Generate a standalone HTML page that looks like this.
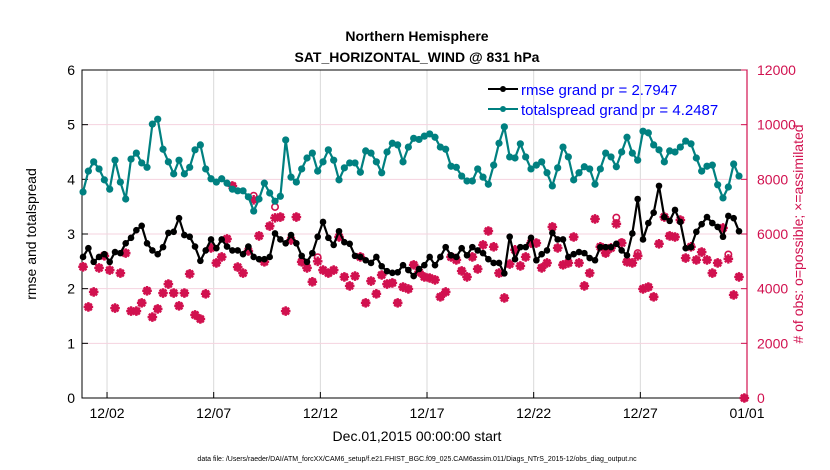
<!DOCTYPE html>
<html><head><meta charset="utf-8"><style>
html,body{margin:0;padding:0;background:#fff;}
svg{display:block;font-family:"Liberation Sans",Arial,sans-serif;}
</style></head><body>
<svg id="c" width="830" height="470" viewBox="0 0 830 470">
<text x="417" y="41" text-anchor="middle" font-size="14" font-weight="bold">Northern Hemisphere</text>
<text x="417" y="62" text-anchor="middle" font-size="14" font-weight="bold">SAT_HORIZONTAL_WIND @ 831 hPa</text>
<g id="grid"></g>
<g id="axes"></g>
<g id="marks"></g>
<text transform="translate(36,234) rotate(-90)" text-anchor="middle" font-size="14">rmse and totalspread</text>
<text transform="translate(803,234) rotate(-90)" text-anchor="middle" font-size="14" fill="#d1114f"># of obs: o=possible; ×=assimilated</text>
<text x="417" y="441" text-anchor="middle" font-size="14">Dec.01,2015 00:00:00 start</text>
<text x="417" y="461" text-anchor="middle" font-size="7">data file: /Users/raeder/DAI/ATM_forcXX/CAM6_setup/f.e21.FHIST_BGC.f09_025.CAM6assim.011/Diags_NTrS_2015-12/obs_diag_output.nc</text>
<g>
<g>
<line x1="488" y1="89" x2="518" y2="89" stroke="#000" stroke-width="2"/><circle cx="503" cy="89" r="3" fill="#000"/>
<text x="521" y="95" font-size="15" fill="#0000ff">rmse grand pr = 2.7947</text></g>
<g>
<line x1="488" y1="109" x2="518" y2="109" stroke="#008080" stroke-width="2"/><circle cx="503" cy="109" r="3" fill="#008080"/>
<text x="521" y="115" font-size="15" fill="#0000ff">totalspread grand pr = 4.2487</text></g>
</g>
</svg>
<script>
const spread=[3.77,4.15,4.32,4.19,3.99,3.82,4.35,3.95,3.64,4.37,4.48,4.30,4.22,5.01,5.10,4.55,4.32,4.10,4.35,4.10,4.22,4.54,4.63,4.19,4.01,3.95,4.01,3.93,3.82,3.79,3.79,3.68,3.42,3.64,3.93,3.75,3.60,3.69,4.72,4.04,3.95,4.19,4.39,
4.48,4.15,4.32,4.54,4.35,3.99,4.21,4.30,4.30,4.13,4.52,4.48,4.32,4.12,4.50,4.66,4.63,4.32,4.59,4.75,4.73,4.79,4.83,4.77,4.59,4.55,4.24,4.22,4.06,3.97,3.97,4.19,4.04,3.91,4.26,4.66,4.96,4.41,4.39,4.65,4.41,
4.19,4.26,4.32,4.12,3.88,4.21,4.59,4.41,3.99,4.12,4.23,4.19,3.91,4.19,4.48,4.41,4.23,4.50,4.77,4.48,4.35,4.88,4.85,4.63,4.54,4.32,4.52,4.50,4.59,4.70,4.65,4.39,4.15,4.24,4.26,3.90,3.66,3.86,4.28,4.06];
const rmse=[2.58,2.74,2.49,2.58,2.63,2.49,2.67,2.65,2.83,2.93,3.07,3.15,2.83,2.70,2.63,2.76,3.02,3.04,3.29,2.98,2.95,2.77,2.51,2.70,2.90,2.74,2.90,2.77,2.70,2.70,2.63,2.77,2.58,2.54,2.54,2.58,3.01,2.90,2.83,2.98,2.83,2.60,2.49,
2.65,2.95,3.22,2.93,2.80,3.05,2.85,2.82,2.60,2.58,2.52,2.47,2.58,2.41,2.32,2.29,2.30,2.43,2.34,2.23,2.36,2.43,2.58,2.43,2.58,2.76,2.61,2.58,2.74,2.61,2.76,2.70,2.65,2.54,2.47,2.47,2.28,2.95,2.54,2.76,2.76,
2.93,2.52,2.63,2.70,3.02,2.90,2.90,2.58,2.63,2.67,2.65,2.56,2.52,2.76,2.76,2.76,2.82,2.70,2.61,3.01,3.64,2.90,3.20,3.39,3.88,3.31,3.24,3.44,3.22,2.74,2.76,3.04,3.18,3.31,3.20,3.13,2.95,3.33,3.29,3.05];
const assimilated=[4800,3330,3880,4760,5200,4680,3290,4570,5300,3180,3180,3480,3920,2960,3260,3840,4170,3840,3370,3840,4540,3040,2890,3810,5490,4940,5160,5820,7760,4790,4570,5380,7250,5930,4980,6290,6590,6620,3180,5780,6620,4980,4760,
4250,5000,4680,4570,4680,5890,4430,4100,4460,5160,3480,4280,3810,4500,4170,4210,3480,4060,3990,4870,4610,4430,4390,4320,3700,3880,5160,5050,4650,4430,5160,4720,5600,6110,5530,4570,3660,4900,5420,4830,5160,
5670,5670,4760,4940,6260,5490,4870,4940,5890,4940,4100,4570,6550,5530,5300,5490,6370,5670,4980,4940,5200,3990,4060,3700,5640,6620,5930,5890,6510,5120,5530,5050,5340,5050,4570,4940,6220,5090,3770,4430,0];
const possible=[4800,3330,3880,4760,5200,4680,3290,4570,5300,3180,3180,3480,3920,2960,3260,3840,4170,3840,3370,3840,4540,3040,2890,3810,5490,4940,5160,5820,7760,4790,4570,5380,7400,5930,4980,6290,6990,6620,3180,5780,6620,4980,4760,
4250,5150,4680,4570,4680,5890,4430,4100,4460,5160,3480,4280,3810,4500,4170,4210,3480,4060,3990,4870,4610,4430,4390,4320,3700,3880,5160,5050,4650,4430,5160,4720,5600,6110,5530,4570,3660,4900,5420,4830,5160,
5670,5670,4760,4940,6260,5490,4870,4940,5890,4940,4100,4570,6550,5530,5300,5490,6600,5700,4980,4940,5300,3990,4060,3700,5640,6620,5930,5890,6510,5120,5530,5050,5340,5050,4570,4940,6220,5250,3770,4430,0];
const xTickLabels=["12/02","12/07","12/12","12/17","12/22","12/27","01/01"];
const xTickDays=[1,6,11,16,21,26,31];
const yTicks=[0,1,2,3,4,5,6];
const y2Ticks=[0,2000,4000,6000,8000,10000,12000];

const L=82,R=747,T=70,B=398;
const xs=t=>85.7+t*(R-85.7)/31;
const ys=v=>B-v*(B-T)/6;
const ys2=v=>B-v*(B-T)/12000;
const tOf=i=>-0.125+i*0.25;
const NS="http://www.w3.org/2000/svg";
function mk(tag,attrs,parent){const e=document.createElementNS(NS,tag);for(const k in attrs)e.setAttribute(k,attrs[k]);parent.appendChild(e);return e;}
const grid=document.getElementById('grid'),axes=document.getElementById('axes'),marks=document.getElementById('marks');
mk('rect',{x:L,y:T,width:R-L,height:B-T,fill:'none',stroke:'#000','stroke-width':1},axes);
xTickDays.forEach((d,k)=>{
  const x=xs(d);
  const g=mk('line',{x1:x,y1:T,x2:x,y2:B,stroke:'#d9d9d9','stroke-width':1},grid);
  
  
  mk('line',{x1:x,y1:B,x2:x,y2:B-6,stroke:'#000'},axes);
  const t=mk('text',{x:x,y:B+20,'text-anchor':'middle','font-size':14},axes);
  t.textContent=xTickLabels[k];
  
  
});
yTicks.forEach(v=>{
  const y=ys(v);
  if(v>0&&v<6){const g=mk('line',{x1:L,y1:y,x2:R,y2:y,stroke:'#f5d3df','stroke-width':1},grid);
  
  }
  mk('line',{x1:L,y1:y,x2:L+6,y2:y,stroke:'#000'},axes);
  const t=mk('text',{x:L-7,y:y+5,'text-anchor':'end','font-size':14},axes);
  t.textContent=v;
  
  
});
mk('line',{x1:R,y1:T,x2:R,y2:B,stroke:'#d1114f','stroke-width':1.2},axes);
y2Ticks.forEach(v=>{
  const y=ys2(v);
  mk('line',{x1:R,y1:y,x2:R-6,y2:y,stroke:'#d1114f'},axes);
  const t=mk('text',{x:R+10,y:y+5,'font-size':14,fill:'#d1114f'},axes);
  t.textContent=v;
  
  
});
// obs markers
const og=mk('g',{},marks);


possible.forEach((v,i)=>{
  const c=mk('circle',{cx:xs(tOf(i)),cy:ys2(v),r:3.2,fill:'none',stroke:'#d1114f','stroke-width':1.6},og);
  
  
});
assimilated.forEach((v,i)=>{
  const x=xs(tOf(i)),y=ys2(v);
  let d='';for(let a=0;a<4;a++){const an=a*Math.PI/4;const dx=4.8*Math.cos(an),dy=4.8*Math.sin(an);d+=`M${x-dx},${y-dy}L${x+dx},${y+dy}`;}
  const p=mk('path',{d:d,stroke:'#d1114f','stroke-width':2.4,fill:'none'},og);
  
  
  mk('circle',{cx:x,cy:y,r:2.6,fill:'#d1114f'},og);
});
function series(arr,color,r,name){
  const g=mk('g',{},marks);
  
  
  const pts=arr.map((v,i)=>xs(tOf(i)).toFixed(1)+','+ys(v).toFixed(1)).join(' ');
  const pl=mk('polyline',{points:pts,fill:'none',stroke:color,'stroke-width':2.2,'stroke-linejoin':'round'},g);
  
  
  arr.forEach((v,i)=>{
    const c=mk('circle',{cx:xs(tOf(i)),cy:ys(v),r:r,fill:color},g);
    
    
  });
}
series(spread,'#008080',3.6,'totalspread');
series(rmse,'#000000',3.3,'rmse');
</script>
</body></html>
